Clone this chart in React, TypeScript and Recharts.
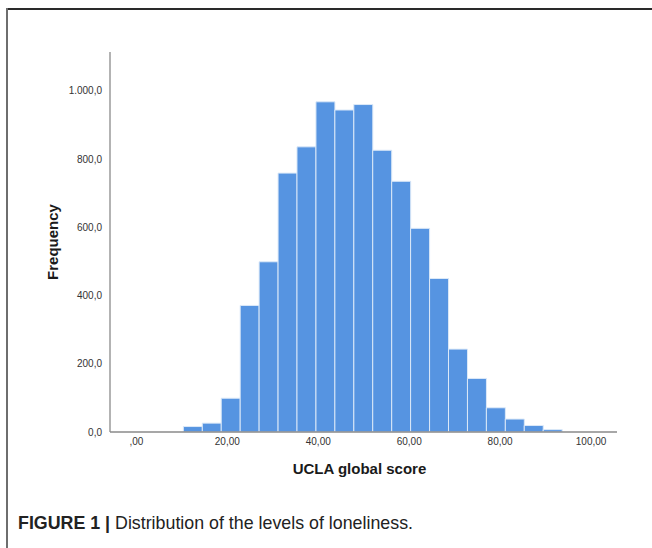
import React from 'react';
import { ComposedChart, Bar, XAxis, YAxis, Label } from 'recharts';

// Histogram bins (bin midpoints of UCLA global score) and their frequencies
const binMids = [12.41, 16.58, 20.74, 24.91, 29.07, 33.24, 37.40, 41.57, 45.73, 49.90, 54.06, 58.23, 62.39, 66.56, 70.72, 74.89, 79.05, 83.22, 87.38, 91.55];
const frequencies = [16, 26, 99, 371, 499, 759, 836, 968, 944, 960, 826, 735, 597, 450, 243, 157, 71, 38, 19, 7];
const xTicks = [0, 20, 40, 60, 80, 100];
const yTicks = [0, 200, 400, 600, 800, 1000];

const data = binMids.map((mid, i) => ({ mid, count: frequencies[i] }));

const FONT = '"Liberation Sans", Arial, Helvetica, sans-serif';

const fmtY = (v: number) => {
  const [i, d] = v.toFixed(1).split('.');
  return i.replace(/\B(?=(\d{3})+(?!\d))/g, '.') + ',' + d;
};
const fmtX = (v: number) => {
  const s = v.toFixed(2).replace('.', ',');
  return s.startsWith('0,') ? s.slice(1) : s;
};

export default function App() {
  return (
    <div style={{ position: 'absolute', left: 0, top: 0, width: 652, height: 548, background: '#fff', overflow: 'hidden', fontFamily: FONT }}>
      <div style={{ position: 'absolute', left: 6, top: 8, width: 660, height: 2, background: '#2a2a2a' }} />
      <div style={{ position: 'absolute', left: 6, top: 8, width: 2, height: 560, background: '#6e6e6e' }} />
      <div style={{ position: 'absolute', left: 0, top: 0 }}>
        <ComposedChart width={652} height={500} data={data} margin={{ top: 52, right: 35, left: 50, bottom: 38 }} barCategoryGap={0} barGap={0}>
          <XAxis
            dataKey="mid"
            type="number"
            domain={[-5.8, 105.7]}
            allowDataOverflow
            ticks={xTicks}
            tickFormatter={fmtX}
            tickLine={false}
            tickSize={4}
            height={30}
            axisLine={{ stroke: '#8a8a8a', strokeWidth: 1.3 }}
            tick={{ fill: '#333', fontSize: 10, fontFamily: FONT }}
            interval={0}
          >
            <Label value="UCLA global score" position="center" dx={-4} dy={22} style={{ fontSize: 15, fontWeight: 'bold', fill: '#1a1a1a', fontFamily: FONT }} />
          </XAxis>
          <YAxis
            type="number"
            domain={[0, 1114]}
            allowDataOverflow
            ticks={yTicks}
            tickFormatter={fmtY}
            tickLine={false}
            width={60}
            axisLine={{ stroke: '#8a8a8a', strokeWidth: 1.3 }}
            tick={{ fill: '#333', fontSize: 10, fontFamily: FONT }}
            interval={0}
          >
            <Label value="Frequency" position="center" angle={-90} dx={-27} style={{ fontSize: 15, fontWeight: 'bold', fill: '#1a1a1a', fontFamily: FONT, textAnchor: 'middle' }} />
          </YAxis>
          <Bar dataKey="count" fill="#5694e1" stroke="#dce9f8" strokeWidth={1} isAnimationActive={false} />
        </ComposedChart>
      </div>
      <svg width={652} height={548} style={{ position: 'absolute', left: 0, top: 0, pointerEvents: 'none' }}>
        <text x={18} y={529} fontSize={19} fill="#222" fontFamily={FONT} textLength={395} lengthAdjust="spacingAndGlyphs">
          <tspan fontWeight="bold">FIGURE 1 | </tspan>
          <tspan>Distribution of the levels of loneliness.</tspan>
        </text>
      </svg>
    </div>
  );
}
